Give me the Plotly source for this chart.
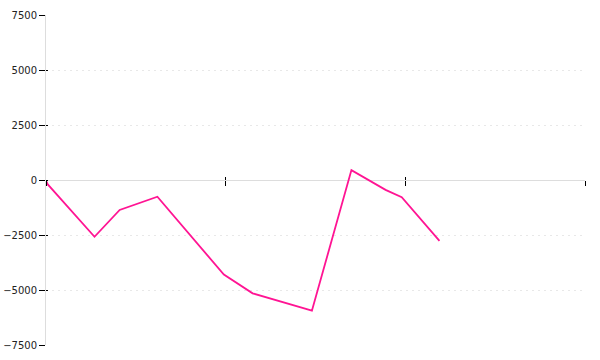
import plotly.graph_objects as go

# data
x_vals = [0, 0.01, 0.27, 0.41, 0.62, 0.99, 1.15, 1.48, 1.70, 1.89, 1.98, 2.19]
y_vals = [-30, -200, -2580, -1360, -760, -4300, -5150, -5940, 450, -450, -780, -2770]
y_ticks = [-7500, -5000, -2500, 0, 2500, 5000, 7500]
x_ticks = [0, 1, 2, 3]

fig = go.Figure()
fig.add_trace(go.Scatter(x=x_vals, y=y_vals, mode="lines",
                         line=dict(color="#FF1493", width=1.8), showlegend=False,
                         hoverinfo="skip"))
# empty trace so the overlay axes (opposite tick halves) get drawn
fig.add_trace(go.Scatter(x=[None], y=[None], xaxis="x2", yaxis="y2",
                         mode="lines", showlegend=False, hoverinfo="skip"))

font = dict(family="DejaVu Sans", size=10, color="#222")

fig.update_layout(
    width=600, height=360,
    margin=dict(l=46, r=15, t=15, b=15),
    paper_bgcolor="white", plot_bgcolor="white",
    font=font,
    xaxis=dict(range=[0, 3], tickvals=x_ticks, showticklabels=False,
               anchor="free", position=0.5, showgrid=False, zeroline=False,
               showline=False, ticks="outside", ticklen=5, tickcolor="black",
               tickwidth=1, automargin=False),
    xaxis2=dict(range=[0, 3], tickvals=x_ticks, showticklabels=False,
                overlaying="x", anchor="free", position=0.5, showgrid=False,
                zeroline=False, showline=False, ticks="inside", ticklen=3,
                tickcolor="black", tickwidth=1, automargin=False),
    yaxis=dict(range=[-7500, 7500], tickvals=y_ticks,
               ticktext=[str(v).replace("-", "\u2212") for v in y_ticks],
               showgrid=True, gridcolor="#e8e8e8", griddash="2px,4px", gridwidth=1,
               zeroline=True, zerolinecolor="#dddddd", zerolinewidth=1,
               showline=True, linecolor="#dddddd", linewidth=1,
               ticks="outside", ticklen=6, tickcolor="black", tickwidth=1,
               tickfont=font, automargin=False),
    yaxis2=dict(range=[-7500, 7500], tickvals=y_ticks, showticklabels=False,
                overlaying="y", showgrid=False, zeroline=False, showline=False,
                ticks="inside", ticklen=2, tickcolor="black", tickwidth=1,
                automargin=False),
)

fig.write_html("out.html")
